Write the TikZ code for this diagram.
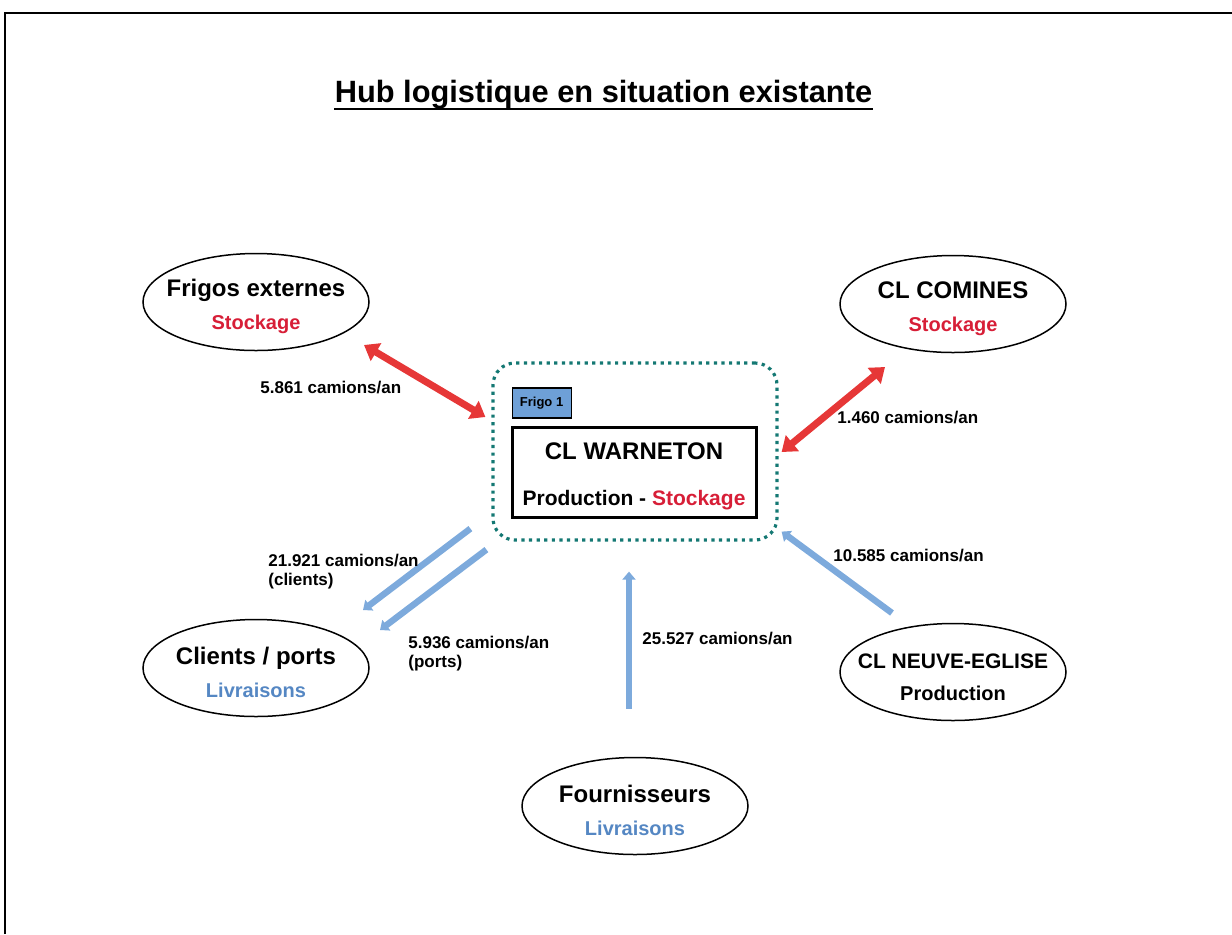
\documentclass[tikz,border=0pt]{standalone}
\usepackage{fontspec}
\setmainfont{Liberation Sans}
\usetikzlibrary{positioning,shapes.geometric,arrows.meta,calc}

\definecolor{flechrouge}{RGB}{230,55,55}
\definecolor{stockrouge}{RGB}{215,30,55}
\definecolor{flechbleue}{RGB}{125,170,220}
\definecolor{livrbleu}{RGB}{85,135,195}
\definecolor{pointille}{RGB}{20,120,115}
\definecolor{frigobleu}{RGB}{110,160,215}

\newcommand\hautligne{\rule{0pt}{13pt}}

\tikzset{
  site/.style={ellipse, draw, line width=0.75pt, minimum width=113pt,
    minimum height=48.5pt, inner sep=-12pt, align=center,
    font=\bfseries\fontsize{12}{16.5}\selectfont},
  hubbox/.style={draw=pointille, line width=1.6pt, dash pattern=on 1.6pt off 2.2pt,
    rounded corners=11pt, minimum width=142pt, minimum height=88.5pt},
  usine/.style={draw, line width=1.5pt, minimum width=122pt, minimum height=45pt,
    inner sep=0pt, align=center, font=\bfseries\fontsize{12}{23}\selectfont},
  frigo/.style={draw, fill=frigobleu, line width=0.6pt, minimum width=29.5pt,
    minimum height=15pt, inner sep=0pt, font=\bfseries\fontsize{6.5}{8}\selectfont},
  debit/.style={anchor=west, align=left, inner sep=0pt,
    font=\bfseries\fontsize{8.5}{9.5}\selectfont},
  fleche rouge/.style={draw=flechrouge, line width=3.5pt,
    arrows={Triangle[length=7pt,width=10pt]-Triangle[length=7pt,width=10pt]}},
  fleche bleue/.style={draw=flechbleue, line width=3.2pt,
    arrows={-Triangle[length=4pt,width=6.5pt]}},
}

\begin{document}
\begin{tikzpicture}[x=0.5pt, y=-0.5pt]
  \useasboundingbox (0,0) rectangle (1232,934);
  \draw [line width=1pt] (5,934) -- (5,13) -- (1232,13);

  \node [font=\bfseries\fontsize{15.4}{18}\selectfont, inner sep=0pt, anchor=base] (titre)
    at (603.5,102) {Hub logistique en situation existante};
  \draw [line width=1.3pt] ($(titre.base west)+(0,7)$) -- ($(titre.base east)+(0,7)$);

  % sites
  \node [site] (frigos) at (256,302)
    {\hautligne Frigos externes\\{\color{stockrouge}\fontsize{10}{16.5}\selectfont Stockage}};
  \node [site] (comines) at (953,304)
    {\hautligne CL COMINES\\{\color{stockrouge}\fontsize{10}{16.5}\selectfont Stockage}};
  \node [site] (clients) at (256,668)
    {\hautligne Clients / ports\\{\color{livrbleu}\fontsize{10}{16.5}\selectfont Livraisons}};
  \node [site, font=\bfseries\fontsize{10.5}{16}\selectfont] (neuve) at (953,672)
    {\hautligne CL NEUVE-EGLISE\\{\fontsize{10}{16}\selectfont Production}};
  \node [site] (fournisseurs) at (635,806)
    {\hautligne Fournisseurs\\{\color{livrbleu}\fontsize{10}{16.5}\selectfont Livraisons}};

  % hub
  \node [hubbox] (hub) at (635,451.5) {};
  \node [usine] (warneton) at (634,472)
    {\hautligne CL WARNETON\\{\fontsize{10.5}{23}\selectfont Production - \color{stockrouge}Stockage}};
  \node [frigo, above right=3.5pt and 0.5pt of warneton.north west] (frigo1) {Frigo 1};

  % flux
  \draw [fleche rouge] ($(frigos)+(108,43)$) -- ($(hub.west)+(-6,-34.5)$);
  \draw [fleche rouge] ($(hub.east)+(3,0.5)$) -- ($(comines)+(-68,63)$);
  \draw [fleche bleue] ($(hub.south west)+(-21,-13)$) -- ($(clients)+(107,-58)$);
  \draw [fleche bleue] ($(hub.south west)+(-5,8)$) -- ($(clients)+(124,-38)$);
  \draw [fleche bleue] ($(fournisseurs.north)+(-6,-48)$) -- ($(hub.south)+(-6,30)$);
  \draw [fleche bleue] ($(neuve)+(-61,-59)$) -- ($(hub.south east)+(3,-10)$);

  \node [debit] (d1) at (260,387) {5.861 camions/an};
  \node [debit] (d2) at (837,417) {1.460 camions/an};
  \node [debit] (d3) at (268,571.5) {21.921 camions/an\\(clients)};
  \node [debit] (d4) at (408,654) {5.936 camions/an\\(ports)};
  \node [debit] (d5) at (642,638) {25.527 camions/an};
  \node [debit] (d6) at (833,555) {10.585 camions/an};
\end{tikzpicture}
\end{document}
